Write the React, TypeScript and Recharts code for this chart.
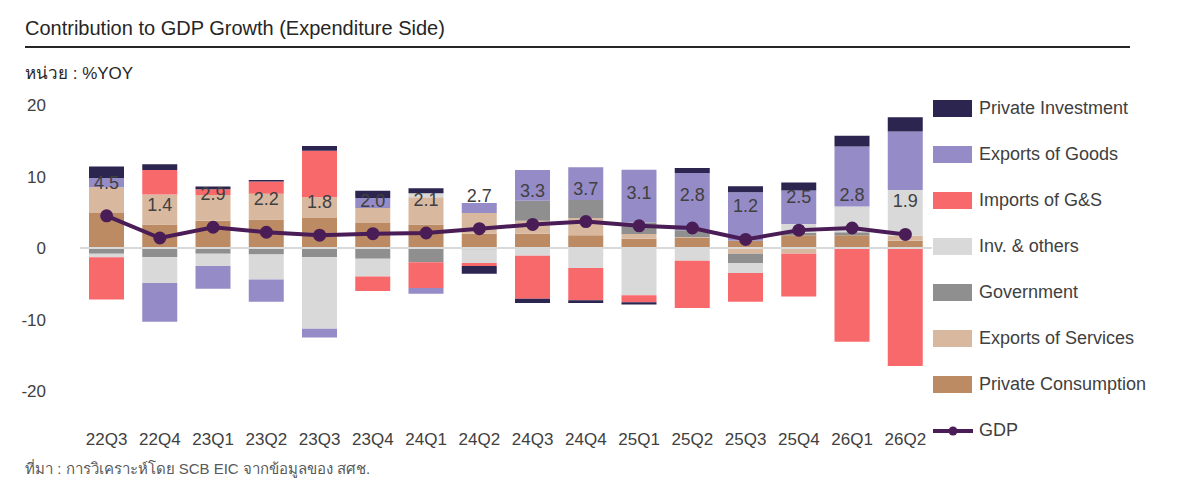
import { Bar, ComposedChart, LabelList, Line, ReferenceLine, XAxis, YAxis } from "recharts";

const quarters = ["22Q3", "22Q4", "23Q1", "23Q2", "23Q3", "23Q4", "24Q1", "24Q2", "24Q3", "24Q4", "25Q1", "25Q2", "25Q3", "25Q4", "26Q1", "26Q2"];
const privateConsumption = [4.9, 3.3, 3.8, 4.0, 4.2, 3.5, 3.3, 2.0, 2.0, 1.8, 1.3, 1.4, 1.0, 1.8, 1.8, 1.0];
const exportsServices = [3.6, 4.2, 3.6, 3.6, 2.9, 2.1, 3.8, 2.9, 1.8, 2.4, 0.65, 0.1, -0.8, -0.8, 0, 0.7];
const government = [-0.8, -1.3, -0.8, -0.9, -1.3, -1.5, -2.0, -0.2, 2.8, 2.5, 1.6, 1.0, -1.3, 0.3, 0.4, 0];
const invOthers = [-0.5, -3.6, -1.7, -3.5, -10.0, -2.5, 0.55, -1.9, -1.1, -2.8, -6.6, -1.8, -1.4, 1.25, 3.6, 6.4];
const imports = [-5.9, 3.4, 0.8, 1.7, 6.5, -2.0, -3.6, -0.4, -6.0, -4.5, -1.0, -6.6, -4.0, -6.0, -13.1, -16.5];
const exportsGoods = [1.3, -5.4, -3.2, -3.1, -1.2, 1.4, -0.8, 1.4, 4.3, 4.6, 7.4, 8.0, 6.8, 4.7, 8.4, 8.2];
const privateInvestment = [1.6, 0.8, 0.4, 0.2, 0.65, 1.0, 0.7, -1.1, -0.6, -0.4, -0.3, 0.7, 0.85, 1.1, 1.5, 2.0];
const gdp = [4.5, 1.4, 2.9, 2.2, 1.8, 2.0, 2.1, 2.7, 3.3, 3.7, 3.1, 2.8, 1.2, 2.5, 2.8, 1.9];
const yTicks = [-20, -10, 0, 10, 20];

const series = [
  { key: "pc", name: "Private Consumption", color: "#bc8a63", values: privateConsumption },
  { key: "es", name: "Exports of Services", color: "#d9b8a0", values: exportsServices },
  { key: "gov", name: "Government", color: "#8f8f8f", values: government },
  { key: "inv", name: "Inv. & others", color: "#d9d9d9", values: invOthers },
  { key: "imp", name: "Imports of G&S", color: "#f8696b", values: imports },
  { key: "exg", name: "Exports of Goods", color: "#958bc6", values: exportsGoods },
  { key: "pi", name: "Private Investment", color: "#2b2550", values: privateInvestment },
];

const data = quarters.map((q, i) => {
  const row: Record<string, number | string> = { q, gdp: gdp[i] };
  series.forEach((s) => (row[s.key] = s.values[i]));
  return row;
});

const font = "'Liberation Sans', Arial, sans-serif";

export default function App() {
  const legend = [...series].reverse();
  return (
    <div style={{ position: "absolute", left: 0, top: 0, width: 1193, height: 500, background: "#fff", fontFamily: font, color: "#262626" }}>
      <div style={{ position: "absolute", left: 25, top: 17, fontSize: 20 }}>Contribution to GDP Growth (Expenditure Side)</div>
      <div style={{ position: "absolute", left: 25, top: 46, width: 1105, height: 2, background: "#262626" }} />
      <div style={{ position: "absolute", left: 25, top: 59, fontSize: 17 }}>หน่วย : %YOY</div>
      <ComposedChart
        width={1193}
        height={500}
        data={data}
        stackOffset="sign"
        margin={{ top: 105, right: 261, left: 0, bottom: 0 }}
      >
        <XAxis dataKey="q" axisLine={false} tickLine={false} height={109} tickMargin={36} tick={{ fontSize: 17, fill: "#404040", fontFamily: font }} />
        <YAxis domain={[-20, 20]} ticks={yTicks} width={80} axisLine={false} tickLine={false} tickMargin={28} tick={{ fontSize: 17, fill: "#404040", fontFamily: font }} />
        <ReferenceLine y={0} stroke="#d9d9d9" strokeWidth={2} />
        {series.map((s) => (
          <Bar key={s.key} dataKey={s.key} stackId="a" fill={s.color} barSize={35} isAnimationActive={false} />
        ))}
        <Line dataKey="gdp" stroke="#4a1d57" strokeWidth={4} dot={{ r: 4.5, fill: "#4a1d57", stroke: "#4a1d57" }} isAnimationActive={false}>
          <LabelList dataKey="gdp" position="top" offset={27} formatter={(v: number) => v.toFixed(1)} style={{ fontSize: 18, fill: "#404040", fontFamily: font }} />
        </Line>
      </ComposedChart>
      {legend.map((s, i) => (
        <div key={s.key} style={{ position: "absolute", left: 933, top: 98 + i * 46, display: "flex", alignItems: "center", fontSize: 18, color: "#404040" }}>
          <span style={{ width: 39, height: 17, background: s.color, marginRight: 7 }} />
          {s.name}
        </div>
      ))}
      <div style={{ position: "absolute", left: 933, top: 420, display: "flex", alignItems: "center", fontSize: 18, color: "#404040" }}>
        <svg width={40} height={18} style={{ marginRight: 6 }}>
          <line x1={0} y1={9} x2={40} y2={9} stroke="#4a1d57" strokeWidth={4} />
          <circle cx={20} cy={9} r={4.5} fill="#4a1d57" />
        </svg>
        GDP
      </div>
      <div style={{ position: "absolute", left: 25, top: 457, fontSize: 15, color: "#595959" }}>ที่มา : การวิเคราะห์โดย SCB EIC จากข้อมูลของ สศช.</div>
    </div>
  );
}
